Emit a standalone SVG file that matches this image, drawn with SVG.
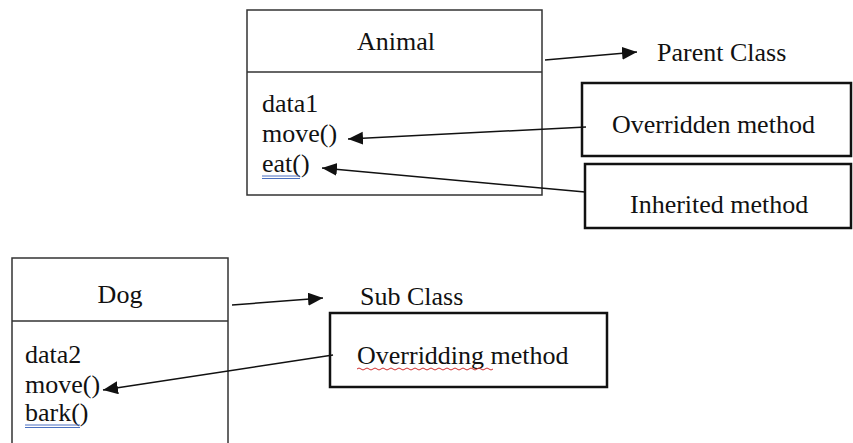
<svg xmlns="http://www.w3.org/2000/svg" width="853" height="443" viewBox="0 0 853 443">
<defs>
<style>
text{font-family:"Liberation Serif","Times New Roman",serif;font-size:26px;fill:#111}
.cls{fill:#fff;stroke:#333;stroke-width:1.5}
.note{fill:#fff;stroke:#111;stroke-width:2.5}
.conn{stroke:#111;stroke-width:1.5;fill:none}
.ul{stroke:#4a6fc0;stroke-width:1;fill:none}
</style>
<marker id="ah" markerUnits="userSpaceOnUse" markerWidth="16" markerHeight="14" refX="15" refY="6.5" orient="auto">
<path d="M0,0 L15,6.5 L0,13 Z" fill="#111"/>
</marker>
</defs>
<rect width="853" height="443" fill="#fff"/>
<g id="animal">
<rect class="cls" x="247" y="10" width="295" height="185"/>
<line class="cls" x1="247" y1="72" x2="542" y2="72"/>
<text x="396" y="50" text-anchor="middle">Animal</text>
<text x="262" y="112">data1</text>
<text x="262" y="142">move()</text>
<text x="262" y="172">eat()</text>
<path class="ul" d="M262,176 H300 M262,178.5 H300"/>
</g>
<g id="parent-label">
<text x="657" y="61">Parent Class</text>
</g>
<g id="overridden">
<rect class="note" x="582" y="83" width="269" height="73"/>
<text x="612" y="133">Overridden method</text>
</g>
<g id="inherited">
<rect class="note" x="585" y="164" width="266" height="64"/>
<text x="630" y="213">Inherited method</text>
</g>
<g id="dog">
<rect class="cls" x="12" y="258" width="216" height="200"/>
<line class="cls" x1="12" y1="321" x2="228" y2="321"/>
<text x="120" y="303" text-anchor="middle">Dog</text>
<text x="25" y="363">data2</text>
<text x="25" y="393">move()</text>
<text x="25" y="421">bark()</text>
<path class="ul" d="M25,425 H80 M25,427.5 H80"/>
</g>
<g id="sub-label">
<text x="360" y="305">Sub Class</text>
</g>
<g id="overridding">
<rect class="note" x="330" y="313" width="277" height="74"/>
<text x="357" y="364">Overridding method</text>
<path d="M357,369 q2,-2 4,0 t4,0 t4,0 t4,0 t4,0 t4,0 t4,0 t4,0 t4,0 t4,0 t4,0 t4,0 t4,0 t4,0 t4,0 t4,0 t4,0 t4,0 t4,0 t4,0 t4,0 t4,0 t4,0 t4,0 t4,0 t4,0 t4,0 t4,0 t4,0 t4,0 t4,0 t4,0 t4,0 t4,0" fill="none" stroke="#d03030" stroke-width="1"/>
</g>
<g id="connectors">
<line class="conn" x1="545" y1="60" x2="637" y2="52" marker-end="url(#ah)"/>
<line class="conn" x1="586" y1="127" x2="348" y2="139" marker-end="url(#ah)"/>
<line class="conn" x1="585" y1="192" x2="322" y2="168" marker-end="url(#ah)"/>
<line class="conn" x1="232" y1="305" x2="323" y2="298" marker-end="url(#ah)"/>
<line class="conn" x1="333" y1="355" x2="103" y2="390" marker-end="url(#ah)"/>
</g>
</svg>
